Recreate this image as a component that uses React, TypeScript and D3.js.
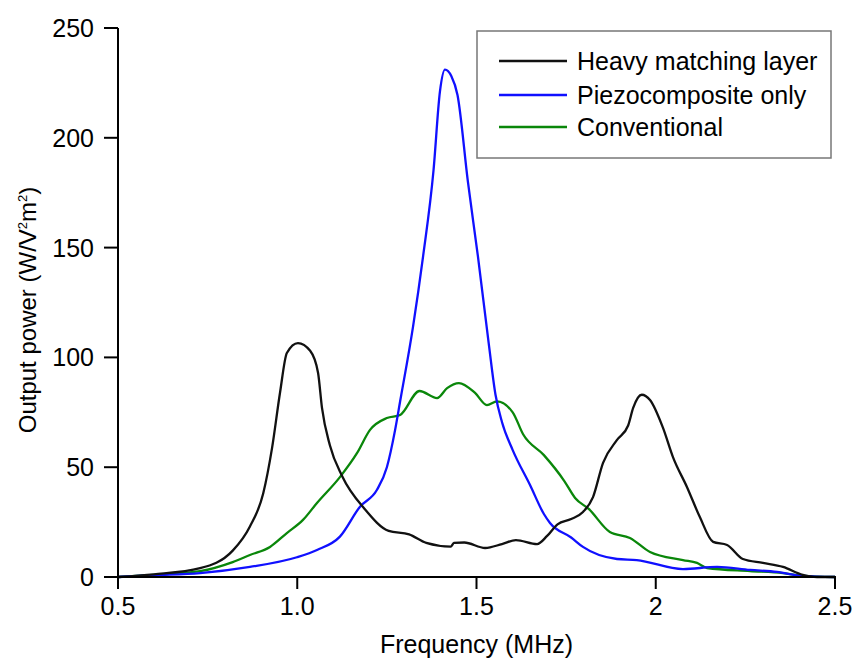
import React from "react";
import * as d3 from "d3";

const heavyF = [0.5, 0.6, 0.729, 0.82, 0.868, 0.905, 0.93, 0.952, 0.971, 1.002, 1.036, 1.058, 1.069, 1.091, 1.125, 1.188, 1.255, 1.312, 1.36, 1.428, 1.437, 1.466, 1.524, 1.571, 1.61, 1.669, 1.697, 1.726, 1.764, 1.797, 1.825, 1.853, 1.892, 1.923, 1.937, 1.961, 1.984, 2.02, 2.048, 2.087, 2.123, 2.16, 2.199, 2.243, 2.299, 2.355, 2.41, 2.45, 2.5];
const heavyV = [0, 1.2, 4, 12, 23, 38, 59, 84, 102, 106.5, 103, 93, 77, 60, 46, 31, 21, 19.4, 15.5, 13.8, 15.5, 15.7, 13.2, 15, 16.8, 15, 18.7, 24, 26.4, 29.6, 36.4, 52, 62.4, 69, 77, 83, 80.6, 68, 54.6, 41, 27.3, 16, 14.6, 8.2, 6.4, 4.6, 1, 0, 0];

const piezoF = [0.5, 0.6, 0.729, 0.868, 0.999, 1.055, 1.119, 1.175, 1.222, 1.25, 1.273, 1.287, 1.323, 1.351, 1.38, 1.398, 1.412, 1.43, 1.447, 1.476, 1.504, 1.534, 1.553, 1.571, 1.601, 1.649, 1.688, 1.705, 1.764, 1.797, 1.892, 1.947, 2.076, 2.171, 2.263, 2.338, 2.41, 2.5];
const piezoV = [0, 0.8, 1.8, 4.6, 9, 12.3, 18.4, 32, 39.6, 50, 67, 80, 114, 146, 185, 221, 231, 228, 219.5, 180, 146, 106.5, 83, 70.6, 57.8, 42, 28.7, 24.6, 18, 13.7, 8.2, 7.7, 3.6, 4.6, 3.2, 2.3, 0.5, 0];

const convF = [0.5, 0.6, 0.729, 0.82, 0.868, 0.924, 0.971, 1.016, 1.055, 1.119, 1.167, 1.203, 1.25, 1.287, 1.341, 1.39, 1.418, 1.451, 1.496, 1.529, 1.557, 1.601, 1.63, 1.688, 1.745, 1.775, 1.813, 1.872, 1.928, 1.984, 2.076, 2.115, 2.143, 2.263, 2.355, 2.41, 2.5];
const convV = [0, 1, 2.7, 6.8, 10, 13.7, 20, 26, 33.7, 45.5, 56.5, 67, 72.4, 73.8, 84.7, 81.5, 86, 88.3, 83.8, 78.3, 80, 75, 65, 55.5, 43.7, 36, 31, 20.5, 17.8, 11.4, 7.7, 6.4, 4.1, 2.7, 1.8, 0.5, 0];

const seriesNames = ["Heavy matching layer", "Piezocomposite only", "Conventional"];
const seriesColors = ["#111111", "#1010ff", "#0a870a"];

const xTicks = [0.5, 1.0, 1.5, 2, 2.5];
const xTickLabels = ["0.5", "1.0", "1.5", "2", "2.5"];
const yTicks = [0, 50, 100, 150, 200, 250];

export default function App() {
  const W = 858, H = 661;
  const left = 118, right = 835, top = 28, bottom = 577;
  const x = d3.scaleLinear().domain([0.5, 2.5]).range([left, right]);
  const y = d3.scaleLinear().domain([0, 250]).range([bottom, top]);
  const font = "'Liberation Sans', Arial, sans-serif";
  const fs = 25;

  const line = d3
    .line<[number, number]>()
    .x((d) => x(d[0]))
    .y((d) => y(d[1]))
    .curve(d3.curveMonotoneX);

  const series = [
    d3.zip(heavyF, heavyV) as [number, number][],
    d3.zip(piezoF, piezoV) as [number, number][],
    d3.zip(convF, convV) as [number, number][],
  ];

  const legendRows = [61, 95, 127];

  return (
    <svg width={W} height={H} style={{ position: "absolute", left: 0, top: 0, background: "#fff" }} fontFamily={font}>
      {[2, 1, 0].map((i) => (
        <path key={i} d={line(series[i]) || ""} fill="none" stroke={seriesColors[i]} strokeWidth={2.3} strokeLinejoin="round" />
      ))}
      <line x1={left} x2={left} y1={y(250)} y2={bottom + 1} stroke="#000" strokeWidth={2} />
      <line x1={left - 1} x2={right + 1} y1={bottom} y2={bottom} stroke="#000" strokeWidth={2} />
      {yTicks.map((t) => (
        <g key={t}>
          <line x1={left - 14} x2={left} y1={y(t)} y2={y(t)} stroke="#000" strokeWidth={2} />
          <text x={left - 24} y={y(t) + 9} textAnchor="end" fontSize={fs} fill="#000">
            {t}
          </text>
        </g>
      ))}
      {xTicks.map((t, i) => (
        <g key={t}>
          <line x1={x(t)} x2={x(t)} y1={bottom} y2={bottom + 12} stroke="#000" strokeWidth={2} />
          <text x={x(t)} y={bottom + 38} textAnchor="middle" fontSize={fs} fill="#000">
            {xTickLabels[i]}
          </text>
        </g>
      ))}
      <text x={(left + right) / 2} y={653} textAnchor="middle" fontSize={fs} fill="#000">
        Frequency (MHz)
      </text>
      <text transform={`translate(36, 310) rotate(-90)`} textAnchor="middle" fontSize={24} fill="#000">
        Output power (W/V<tspan fontSize={13} dy={-9}>2</tspan><tspan dy={9}>m</tspan><tspan fontSize={13} dy={-9}>2</tspan><tspan dy={9}>)</tspan>
      </text>
      <rect x={477} y={31} width={354} height={127} fill="#fff" stroke="#777" strokeWidth={1.5} />
      {seriesNames.map((n, i) => (
        <g key={n}>
          <line x1={499} x2={567} y1={legendRows[i]} y2={legendRows[i]} stroke={seriesColors[i]} strokeWidth={2.3} />
          <text x={577} y={legendRows[i] + 9} fontSize={fs} fill="#000">
            {n}
          </text>
        </g>
      ))}
    </svg>
  );
}
